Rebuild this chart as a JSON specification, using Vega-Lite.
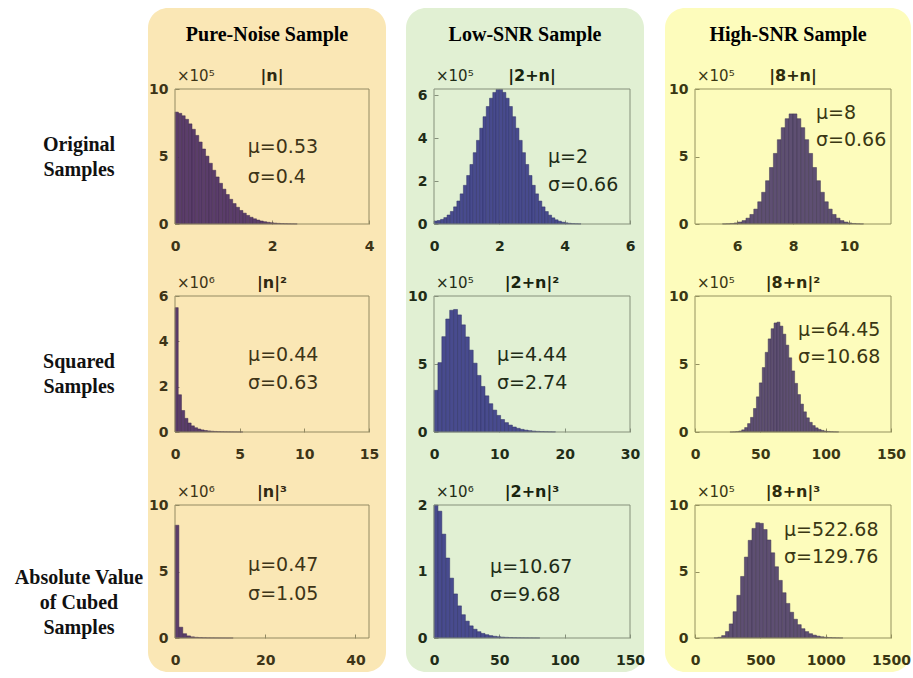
{
"$schema": "https://vega.github.io/schema/vega-lite/v6.json",
"background": "#ffffff",
"padding": {"left": 0, "top": 8, "right": 3, "bottom": 6},
"spacing": 0,
"config": {
  "view": {"stroke": null},
  "font": "DejaVu Sans",
  "axis": {"grid": false, "domain": false, "labelFont": "DejaVu Sans", "labelFontWeight": "bold", "labelFontSize": 14, "tickSize": -4, "tickWidth": 1, "labelFlush": false, "labelOverlap": false, "labelBound": false, "format": "d"},
  "axisX": {"labelPadding": 19},
  "axisY": {"labelPadding": 11},
  "text": {"font": "DejaVu Sans"}
},
"datasets": {
  "A1": [{"lo":0,"hi":0.07,"count":829000},{"lo":0.07,"hi":0.14,"count":819700},{"lo":0.14,"hi":0.21,"count":801700},{"lo":0.21,"hi":0.28,"count":775400},{"lo":0.28,"hi":0.35,"count":741700},{"lo":0.35,"hi":0.42,"count":701600},{"lo":0.42,"hi":0.49,"count":656300},{"lo":0.49,"hi":0.56,"count":607200},{"lo":0.56,"hi":0.63,"count":555500},{"lo":0.63,"hi":0.7,"count":502600},{"lo":0.7,"hi":0.77,"count":449800},{"lo":0.77,"hi":0.84,"count":398100},{"lo":0.84,"hi":0.91,"count":348400},{"lo":0.91,"hi":0.98,"count":301500},{"lo":0.98,"hi":1.05,"count":258000},{"lo":1.05,"hi":1.12,"count":218400},{"lo":1.12,"hi":1.19,"count":182900},{"lo":1.19,"hi":1.26,"count":151300},{"lo":1.26,"hi":1.33,"count":123900},{"lo":1.33,"hi":1.4,"count":100300},{"lo":1.4,"hi":1.47,"count":80400},{"lo":1.47,"hi":1.54,"count":63600},{"lo":1.54,"hi":1.61,"count":49800},{"lo":1.61,"hi":1.68,"count":38600},{"lo":1.68,"hi":1.75,"count":29500},{"lo":1.75,"hi":1.82,"count":22400},{"lo":1.82,"hi":1.89,"count":16800},{"lo":1.89,"hi":1.96,"count":12400},{"lo":1.96,"hi":2.03,"count":9100},{"lo":2.03,"hi":2.1,"count":6600},{"lo":2.1,"hi":2.17,"count":4700},{"lo":2.17,"hi":2.24,"count":3300},{"lo":2.24,"hi":2.31,"count":2300},{"lo":2.31,"hi":2.38,"count":1600},{"lo":2.38,"hi":2.45,"count":1100},{"lo":2.45,"hi":2.52,"count":760}],
  "A2": [{"lo":0,"hi":0.1,"count":13800},{"lo":0.1,"hi":0.2,"count":16300},{"lo":0.2,"hi":0.3,"count":21500},{"lo":0.3,"hi":0.4,"count":29900},{"lo":0.4,"hi":0.5,"count":42000},{"lo":0.5,"hi":0.6,"count":58500},{"lo":0.6,"hi":0.7,"count":80000},{"lo":0.7,"hi":0.8,"count":107200},{"lo":0.8,"hi":0.9,"count":140600},{"lo":0.9,"hi":1.0,"count":180400},{"lo":1.0,"hi":1.1,"count":226400},{"lo":1.1,"hi":1.2,"count":277700},{"lo":1.2,"hi":1.3,"count":332900},{"lo":1.3,"hi":1.4,"count":390200},{"lo":1.4,"hi":1.5,"count":447100},{"lo":1.5,"hi":1.6,"count":500700},{"lo":1.6,"hi":1.7,"count":548300},{"lo":1.7,"hi":1.8,"count":586900},{"lo":1.8,"hi":1.9,"count":614100},{"lo":1.9,"hi":2.0,"count":628200},{"lo":2.0,"hi":2.1,"count":628200},{"lo":2.1,"hi":2.2,"count":614100},{"lo":2.2,"hi":2.3,"count":586900},{"lo":2.3,"hi":2.4,"count":548300},{"lo":2.4,"hi":2.5,"count":500700},{"lo":2.5,"hi":2.6,"count":447100},{"lo":2.6,"hi":2.7,"count":390200},{"lo":2.7,"hi":2.8,"count":332900},{"lo":2.8,"hi":2.9,"count":277700},{"lo":2.9,"hi":3.0,"count":226400},{"lo":3.0,"hi":3.1,"count":180400},{"lo":3.1,"hi":3.2,"count":140600},{"lo":3.2,"hi":3.3,"count":107100},{"lo":3.3,"hi":3.4,"count":79800},{"lo":3.4,"hi":3.5,"count":58100},{"lo":3.5,"hi":3.6,"count":41300},{"lo":3.6,"hi":3.7,"count":28700},{"lo":3.7,"hi":3.8,"count":19500},{"lo":3.8,"hi":3.9,"count":13000},{"lo":3.9,"hi":4.0,"count":8400},{"lo":4.0,"hi":4.1,"count":5400},{"lo":4.1,"hi":4.2,"count":3300},{"lo":4.2,"hi":4.3,"count":2000},{"lo":4.3,"hi":4.4,"count":1200},{"lo":4.4,"hi":4.5,"count":700}],
  "A3": [{"lo":5.48,"hi":5.62,"count":900},{"lo":5.62,"hi":5.76,"count":1900},{"lo":5.76,"hi":5.9,"count":3900},{"lo":5.9,"hi":6.04,"count":7700},{"lo":6.04,"hi":6.18,"count":14300},{"lo":6.18,"hi":6.32,"count":25400},{"lo":6.32,"hi":6.46,"count":43400},{"lo":6.46,"hi":6.6,"count":70700},{"lo":6.6,"hi":6.74,"count":110300},{"lo":6.74,"hi":6.88,"count":164600},{"lo":6.88,"hi":7.02,"count":234900},{"lo":7.02,"hi":7.16,"count":320600},{"lo":7.16,"hi":7.3,"count":418600},{"lo":7.3,"hi":7.44,"count":522800},{"lo":7.44,"hi":7.58,"count":624500},{"lo":7.58,"hi":7.72,"count":713600},{"lo":7.72,"hi":7.86,"count":780000},{"lo":7.86,"hi":8.0,"count":815500},{"lo":8.0,"hi":8.14,"count":815500},{"lo":8.14,"hi":8.28,"count":780000},{"lo":8.28,"hi":8.42,"count":713600},{"lo":8.42,"hi":8.56,"count":624500},{"lo":8.56,"hi":8.7,"count":522800},{"lo":8.7,"hi":8.84,"count":418600},{"lo":8.84,"hi":8.98,"count":320600},{"lo":8.98,"hi":9.12,"count":234900},{"lo":9.12,"hi":9.26,"count":164600},{"lo":9.26,"hi":9.4,"count":110300},{"lo":9.4,"hi":9.54,"count":70700},{"lo":9.54,"hi":9.68,"count":43400},{"lo":9.68,"hi":9.82,"count":25400},{"lo":9.82,"hi":9.96,"count":14300},{"lo":9.96,"hi":10.1,"count":7700},{"lo":10.1,"hi":10.24,"count":3900},{"lo":10.24,"hi":10.38,"count":1900},{"lo":10.38,"hi":10.52,"count":900}],
  "B1": [{"lo":0,"hi":0.25,"count":5486000},{"lo":0.25,"hi":0.5,"count":1644000},{"lo":0.5,"hi":0.75,"count":948000},{"lo":0.75,"hi":1.0,"count":602000},{"lo":1.0,"hi":1.25,"count":398000},{"lo":1.25,"hi":1.5,"count":270800},{"lo":1.5,"hi":1.75,"count":187800},{"lo":1.75,"hi":2.0,"count":131600},{"lo":2.0,"hi":2.25,"count":93000},{"lo":2.25,"hi":2.5,"count":66200},{"lo":2.5,"hi":2.75,"count":47600},{"lo":2.75,"hi":3.0,"count":34000},{"lo":3.0,"hi":3.25,"count":24800},{"lo":3.25,"hi":3.5,"count":17800},{"lo":3.5,"hi":3.75,"count":13000},{"lo":3.75,"hi":4.0,"count":9400},{"lo":4.0,"hi":4.25,"count":7000},{"lo":4.25,"hi":4.5,"count":5000},{"lo":4.5,"hi":4.75,"count":3700},{"lo":4.75,"hi":5.0,"count":2700},{"lo":5.0,"hi":5.25,"count":2000}],
  "B2": [{"lo":0,"hi":0.6,"count":307000},{"lo":0.6,"hi":1.2,"count":510000},{"lo":1.2,"hi":1.8,"count":701000},{"lo":1.8,"hi":2.4,"count":831000},{"lo":2.4,"hi":3.0,"count":895000},{"lo":3.0,"hi":3.6,"count":901000},{"lo":3.6,"hi":4.2,"count":861000},{"lo":4.2,"hi":4.8,"count":788000},{"lo":4.8,"hi":5.4,"count":699000},{"lo":5.4,"hi":6.0,"count":602000},{"lo":6.0,"hi":6.6,"count":506000},{"lo":6.6,"hi":7.2,"count":416000},{"lo":7.2,"hi":7.8,"count":335000},{"lo":7.8,"hi":8.4,"count":266000},{"lo":8.4,"hi":9.0,"count":208000},{"lo":9.0,"hi":9.6,"count":161000},{"lo":9.6,"hi":10.2,"count":122000},{"lo":10.2,"hi":10.8,"count":92000},{"lo":10.8,"hi":11.4,"count":69000},{"lo":11.4,"hi":12.0,"count":51000},{"lo":12.0,"hi":12.6,"count":36800},{"lo":12.6,"hi":13.2,"count":27000},{"lo":13.2,"hi":13.8,"count":19400},{"lo":13.8,"hi":14.4,"count":13800},{"lo":14.4,"hi":15.0,"count":9800},{"lo":15.0,"hi":15.6,"count":7000},{"lo":15.6,"hi":16.2,"count":4800},{"lo":16.2,"hi":16.8,"count":3400},{"lo":16.8,"hi":17.4,"count":2400},{"lo":17.4,"hi":18.0,"count":1600},{"lo":18.0,"hi":18.6,"count":1100}],
  "B3": [{"lo":26.75,"hi":29,"count":277},{"lo":29,"hi":31.25,"count":921},{"lo":31.25,"hi":33.5,"count":2670},{"lo":33.5,"hi":35.75,"count":6850},{"lo":35.75,"hi":38,"count":15700},{"lo":38,"hi":40.25,"count":32600},{"lo":40.25,"hi":42.5,"count":61800},{"lo":42.5,"hi":44.75,"count":107500},{"lo":44.75,"hi":47,"count":172900},{"lo":47,"hi":49.25,"count":258500},{"lo":49.25,"hi":51.5,"count":361200},{"lo":51.5,"hi":53.75,"count":473700},{"lo":53.75,"hi":56,"count":585600},{"lo":56,"hi":58.25,"count":684500},{"lo":58.25,"hi":60.5,"count":759400},{"lo":60.5,"hi":62.75,"count":801800},{"lo":62.75,"hi":65,"count":807800},{"lo":65,"hi":67.25,"count":778500},{"lo":67.25,"hi":69.5,"count":719300},{"lo":69.5,"hi":71.75,"count":638600},{"lo":71.75,"hi":74,"count":545600},{"lo":74,"hi":76.25,"count":449400},{"lo":76.25,"hi":78.5,"count":357600},{"lo":78.5,"hi":80.75,"count":275100},{"lo":80.75,"hi":83,"count":205100},{"lo":83,"hi":85.25,"count":148200},{"lo":85.25,"hi":87.5,"count":104100},{"lo":87.5,"hi":89.75,"count":71000},{"lo":89.75,"hi":92,"count":47100},{"lo":92,"hi":94.25,"count":30500},{"lo":94.25,"hi":96.5,"count":19200},{"lo":96.5,"hi":98.75,"count":11800},{"lo":98.75,"hi":101,"count":7100},{"lo":101,"hi":103.25,"count":4200},{"lo":103.25,"hi":105.5,"count":2400},{"lo":105.5,"hi":107.75,"count":1350},{"lo":107.75,"hi":110,"count":750}],
  "C1": [{"lo":0,"hi":0.86,"count":8478000},{"lo":0.86,"hi":1.72,"count":811200},{"lo":1.72,"hi":2.58,"count":322400},{"lo":2.58,"hi":3.44,"count":158400},{"lo":3.44,"hi":4.3,"count":86800},{"lo":4.3,"hi":5.16,"count":50600},{"lo":5.16,"hi":6.02,"count":31200},{"lo":6.02,"hi":6.88,"count":19600},{"lo":6.88,"hi":7.74,"count":12800},{"lo":7.74,"hi":8.6,"count":8600},{"lo":8.6,"hi":9.46,"count":6000},{"lo":9.46,"hi":10.32,"count":4000},{"lo":10.32,"hi":11.18,"count":2800},{"lo":11.18,"hi":12.04,"count":2000},{"lo":12.04,"hi":12.9,"count":1400}],
  "C2": [{"lo":0,"hi":3,"count":2004000},{"lo":3,"hi":6,"count":1911000},{"lo":6,"hi":9,"count":1565000},{"lo":9,"hi":12,"count":1205000},{"lo":12,"hi":15,"count":902000},{"lo":15,"hi":18,"count":664000},{"lo":18,"hi":21,"count":484000},{"lo":21,"hi":24,"count":351000},{"lo":24,"hi":27,"count":254000},{"lo":27,"hi":30,"count":183000},{"lo":30,"hi":33,"count":132000},{"lo":33,"hi":36,"count":95000},{"lo":36,"hi":39,"count":69000},{"lo":39,"hi":42,"count":49900},{"lo":42,"hi":45,"count":35900},{"lo":45,"hi":48,"count":25900},{"lo":48,"hi":51,"count":18900},{"lo":51,"hi":54,"count":13600},{"lo":54,"hi":57,"count":9900},{"lo":57,"hi":60,"count":7300},{"lo":60,"hi":63,"count":5200},{"lo":63,"hi":66,"count":3800},{"lo":66,"hi":69,"count":2800},{"lo":69,"hi":72,"count":2100},{"lo":72,"hi":75,"count":1500},{"lo":75,"hi":78,"count":1100},{"lo":78,"hi":81,"count":800}],
  "C3": [{"lo":146,"hi":175,"count":1100},{"lo":175,"hi":204,"count":5200},{"lo":204,"hi":233,"count":18000},{"lo":233,"hi":262,"count":48300},{"lo":262,"hi":291,"count":105900},{"lo":291,"hi":320,"count":197700},{"lo":320,"hi":349,"count":320800},{"lo":349,"hi":378,"count":462800},{"lo":378,"hi":407,"count":608300},{"lo":407,"hi":436,"count":734200},{"lo":436,"hi":465,"count":824000},{"lo":465,"hi":494,"count":867000},{"lo":494,"hi":523,"count":862100},{"lo":523,"hi":552,"count":815500},{"lo":552,"hi":581,"count":737000},{"lo":581,"hi":610,"count":640300},{"lo":610,"hi":639,"count":535700},{"lo":639,"hi":668,"count":433200},{"lo":668,"hi":697,"count":340300},{"lo":697,"hi":726,"count":260000},{"lo":726,"hi":755,"count":193600},{"lo":755,"hi":784,"count":141000},{"lo":784,"hi":813,"count":100300},{"lo":813,"hi":842,"count":69900},{"lo":842,"hi":871,"count":48000},{"lo":871,"hi":900,"count":32300},{"lo":900,"hi":929,"count":21500},{"lo":929,"hi":958,"count":14100},{"lo":958,"hi":987,"count":9100},{"lo":987,"hi":1016,"count":5700},{"lo":1016,"hi":1045,"count":3600},{"lo":1045,"hi":1074,"count":2200},{"lo":1074,"hi":1103,"count":1400},{"lo":1103,"hi":1132,"count":800}]
},
"hconcat": [
  {
    "width": 148, "height": 664,
    "data": {"values": [{"row": "Original", "label": "Original\nSamples"}, {"row": "Squared", "label": "Squared\nSamples"}, {"row": "Cubed", "label": "Absolute Value\nof Cubed\nSamples"}]},
    "mark": {"type": "text", "font": "Liberation Serif", "fontSize": 20, "fontWeight": "bold", "lineBreak": "\n", "lineHeight": 25, "color": "#111111", "dx": 5},
    "encoding": {
      "y": {"field": "row", "type": "nominal", "sort": null, "scale": {"type": "point", "range": [137, 570], "padding": 0}, "axis": null},
      "text": {"field": "label"}
    }
  },
  {
    "spacing": 20,
    "hconcat": [
      {
        "width": 238, "height": 664,
        "view": {"fill": "#fae7b5", "stroke": null, "cornerRadius": 20},
        "title": {"text": "Pure-Noise Sample", "font": "Liberation Serif", "fontSize": 20, "fontWeight": "bold", "color": "#000000", "anchor": "middle", "frame": "group", "baseline": "alphabetic", "offset": -53},
        "resolve": {"scale": {"x": "independent", "y": "independent"}, "axis": {"x": "independent", "y": "independent"}},
        "layer": [
          {"layer": [
            {"data": {"name": "A1"}, "mark": {"type": "bar", "fill": "#5b3d6b", "stroke": "#3f2a4c", "strokeWidth": 0.5},
             "encoding": {
               "x": {"field": "lo", "type": "quantitative", "scale": {"domain": [0, 4], "range": [27, 221], "nice": false, "zero": false}, "axis": {"orient": "bottom", "offset": -448, "values": [0, 2, 4], "title": null, "labelColor": "#3d3417", "tickColor": "#938a62"}},
               "x2": {"field": "hi"},
               "y": {"field": "count", "type": "quantitative", "scale": {"domain": [0, 1000000], "range": [216, 81], "nice": false}, "axis": {"orient": "left", "offset": -27, "values": [0, 500000, 1000000], "labelExpr": "format(datum.value/100000,'d')", "title": null, "labelColor": "#3d3417", "tickColor": "#938a62"}},
               "y2": {"datum": 0}
             }},
            {"data": {"values": [{}]}, "mark": {"type": "rect", "filled": false, "stroke": "#938a62", "strokeWidth": 1}, "encoding": {"x": {"datum": 0}, "x2": {"datum": 4}, "y": {"datum": 0}, "y2": {"datum": 1000000}}},
            {"data": {"values": [{}]}, "mark": {"type": "text", "text": "|n|", "fontWeight": "bold", "fontSize": 16, "color": "#2f2812", "dy": -13}, "encoding": {"x": {"datum": 2}, "y": {"datum": 1000000}}},
            {"data": {"values": [{}]}, "mark": {"type": "text", "text": "×10⁵", "fontSize": 15, "align": "left", "dx": 2, "dy": -13, "color": "#3d3417"}, "encoding": {"x": {"datum": 0}, "y": {"datum": 1000000}}},
            {"data": {"values": [{}]}, "mark": {"type": "text", "text": "μ=0.53", "fontSize": 19, "align": "left", "color": "#3d3417"}, "encoding": {"x": {"datum": 1.5}, "y": {"datum": 570000}}},
            {"data": {"values": [{}]}, "mark": {"type": "text", "text": "σ=0.4", "fontSize": 19, "align": "left", "color": "#3d3417"}, "encoding": {"x": {"datum": 1.5}, "y": {"datum": 348000}}}
          ]},
          {"layer": [
            {"data": {"name": "B1"}, "mark": {"type": "bar", "fill": "#5b3d6b", "stroke": "#3f2a4c", "strokeWidth": 0.5},
             "encoding": {
               "x": {"field": "lo", "type": "quantitative", "scale": {"domain": [0, 15], "range": [27, 221], "nice": false, "zero": false}, "axis": {"orient": "bottom", "offset": -240, "values": [0, 5, 10, 15], "title": null, "labelColor": "#3d3417", "tickColor": "#938a62"}},
               "x2": {"field": "hi"},
               "y": {"field": "count", "type": "quantitative", "scale": {"domain": [0, 6000000], "range": [424, 288], "nice": false}, "axis": {"orient": "left", "offset": -27, "values": [0, 2000000, 4000000, 6000000], "labelExpr": "format(datum.value/1000000,'d')", "title": null, "labelColor": "#3d3417", "tickColor": "#938a62"}},
               "y2": {"datum": 0}
             }},
            {"data": {"values": [{}]}, "mark": {"type": "rect", "filled": false, "stroke": "#938a62", "strokeWidth": 1}, "encoding": {"x": {"datum": 0}, "x2": {"datum": 15}, "y": {"datum": 0}, "y2": {"datum": 6000000}}},
            {"data": {"values": [{}]}, "mark": {"type": "text", "text": "|n|²", "fontWeight": "bold", "fontSize": 16, "color": "#2f2812", "dy": -13}, "encoding": {"x": {"datum": 7.5}, "y": {"datum": 6000000}}},
            {"data": {"values": [{}]}, "mark": {"type": "text", "text": "×10⁶", "fontSize": 15, "align": "left", "dx": 2, "dy": -13, "color": "#3d3417"}, "encoding": {"x": {"datum": 0}, "y": {"datum": 6000000}}},
            {"data": {"values": [{}]}, "mark": {"type": "text", "text": "μ=0.44", "fontSize": 19, "align": "left", "color": "#3d3417"}, "encoding": {"x": {"datum": 5.65}, "y": {"datum": 3400000}}},
            {"data": {"values": [{}]}, "mark": {"type": "text", "text": "σ=0.63", "fontSize": 19, "align": "left", "color": "#3d3417"}, "encoding": {"x": {"datum": 5.65}, "y": {"datum": 2160000}}}
          ]},
          {"layer": [
            {"data": {"name": "C1"}, "mark": {"type": "bar", "fill": "#5b3d6b", "stroke": "#3f2a4c", "strokeWidth": 0.5},
             "encoding": {
               "x": {"field": "lo", "type": "quantitative", "scale": {"domain": [0, 43], "range": [27, 221], "nice": false, "zero": false}, "axis": {"orient": "bottom", "offset": -34, "values": [0, 20, 40], "title": null, "labelColor": "#3d3417", "tickColor": "#938a62"}},
               "x2": {"field": "hi"},
               "y": {"field": "count", "type": "quantitative", "scale": {"domain": [0, 10000000], "range": [630, 497], "nice": false}, "axis": {"orient": "left", "offset": -27, "values": [0, 5000000, 10000000], "labelExpr": "format(datum.value/1000000,'d')", "title": null, "labelColor": "#3d3417", "tickColor": "#938a62"}},
               "y2": {"datum": 0}
             }},
            {"data": {"values": [{}]}, "mark": {"type": "rect", "filled": false, "stroke": "#938a62", "strokeWidth": 1}, "encoding": {"x": {"datum": 0}, "x2": {"datum": 43}, "y": {"datum": 0}, "y2": {"datum": 10000000}}},
            {"data": {"values": [{}]}, "mark": {"type": "text", "text": "|n|³", "fontWeight": "bold", "fontSize": 16, "color": "#2f2812", "dy": -13}, "encoding": {"x": {"datum": 21.5}, "y": {"datum": 10000000}}},
            {"data": {"values": [{}]}, "mark": {"type": "text", "text": "×10⁶", "fontSize": 15, "align": "left", "dx": 2, "dy": -13, "color": "#3d3417"}, "encoding": {"x": {"datum": 0}, "y": {"datum": 10000000}}},
            {"data": {"values": [{}]}, "mark": {"type": "text", "text": "μ=0.47", "fontSize": 19, "align": "left", "color": "#3d3417"}, "encoding": {"x": {"datum": 16.2}, "y": {"datum": 5490000}}},
            {"data": {"values": [{}]}, "mark": {"type": "text", "text": "σ=1.05", "fontSize": 19, "align": "left", "color": "#3d3417"}, "encoding": {"x": {"datum": 16.2}, "y": {"datum": 3310000}}}
          ]}
        ]
      },
      {
        "width": 238, "height": 664,
        "view": {"fill": "#e1f0d3", "stroke": null, "cornerRadius": 20},
        "title": {"text": "Low-SNR Sample", "font": "Liberation Serif", "fontSize": 20, "fontWeight": "bold", "color": "#000000", "anchor": "middle", "frame": "group", "baseline": "alphabetic", "offset": -53},
        "resolve": {"scale": {"x": "independent", "y": "independent"}, "axis": {"x": "independent", "y": "independent"}},
        "layer": [
          {"layer": [
            {"data": {"name": "A2"}, "mark": {"type": "bar", "fill": "#484b8e", "stroke": "#2f3166", "strokeWidth": 0.5},
             "encoding": {
               "x": {"field": "lo", "type": "quantitative", "scale": {"domain": [0, 6], "range": [28, 224], "nice": false, "zero": false}, "axis": {"orient": "bottom", "offset": -448, "values": [0, 2, 4, 6], "title": null, "labelColor": "#1f2c17", "tickColor": "#85907a"}},
               "x2": {"field": "hi"},
               "y": {"field": "count", "type": "quantitative", "scale": {"domain": [0, 630000], "range": [216, 81], "nice": false}, "axis": {"orient": "left", "offset": -28, "values": [0, 200000, 400000, 600000], "labelExpr": "format(datum.value/100000,'d')", "title": null, "labelColor": "#1f2c17", "tickColor": "#85907a"}},
               "y2": {"datum": 0}
             }},
            {"data": {"values": [{}]}, "mark": {"type": "rect", "filled": false, "stroke": "#85907a", "strokeWidth": 1}, "encoding": {"x": {"datum": 0}, "x2": {"datum": 6}, "y": {"datum": 0}, "y2": {"datum": 630000}}},
            {"data": {"values": [{}]}, "mark": {"type": "text", "text": "|2+n|", "fontWeight": "bold", "fontSize": 16, "color": "#18240f", "dy": -13}, "encoding": {"x": {"datum": 3}, "y": {"datum": 630000}}},
            {"data": {"values": [{}]}, "mark": {"type": "text", "text": "×10⁵", "fontSize": 15, "align": "left", "dx": 2, "dy": -13, "color": "#1f2c17"}, "encoding": {"x": {"datum": 0}, "y": {"datum": 630000}}},
            {"data": {"values": [{}]}, "mark": {"type": "text", "text": "μ=2", "fontSize": 19, "align": "left", "color": "#1f2c17"}, "encoding": {"x": {"datum": 3.49}, "y": {"datum": 313000}}},
            {"data": {"values": [{}]}, "mark": {"type": "text", "text": "σ=0.66", "fontSize": 19, "align": "left", "color": "#1f2c17"}, "encoding": {"x": {"datum": 3.49}, "y": {"datum": 182000}}}
          ]},
          {"layer": [
            {"data": {"name": "B2"}, "mark": {"type": "bar", "fill": "#484b8e", "stroke": "#2f3166", "strokeWidth": 0.5},
             "encoding": {
               "x": {"field": "lo", "type": "quantitative", "scale": {"domain": [0, 30], "range": [28, 224], "nice": false, "zero": false}, "axis": {"orient": "bottom", "offset": -240, "values": [0, 10, 20, 30], "title": null, "labelColor": "#1f2c17", "tickColor": "#85907a"}},
               "x2": {"field": "hi"},
               "y": {"field": "count", "type": "quantitative", "scale": {"domain": [0, 1000000], "range": [424, 288], "nice": false}, "axis": {"orient": "left", "offset": -28, "values": [0, 500000, 1000000], "labelExpr": "format(datum.value/100000,'d')", "title": null, "labelColor": "#1f2c17", "tickColor": "#85907a"}},
               "y2": {"datum": 0}
             }},
            {"data": {"values": [{}]}, "mark": {"type": "rect", "filled": false, "stroke": "#85907a", "strokeWidth": 1}, "encoding": {"x": {"datum": 0}, "x2": {"datum": 30}, "y": {"datum": 0}, "y2": {"datum": 1000000}}},
            {"data": {"values": [{}]}, "mark": {"type": "text", "text": "|2+n|²", "fontWeight": "bold", "fontSize": 16, "color": "#18240f", "dy": -13}, "encoding": {"x": {"datum": 15}, "y": {"datum": 1000000}}},
            {"data": {"values": [{}]}, "mark": {"type": "text", "text": "×10⁵", "fontSize": 15, "align": "left", "dx": 2, "dy": -13, "color": "#1f2c17"}, "encoding": {"x": {"datum": 0}, "y": {"datum": 1000000}}},
            {"data": {"values": [{}]}, "mark": {"type": "text", "text": "μ=4.44", "fontSize": 19, "align": "left", "color": "#1f2c17"}, "encoding": {"x": {"datum": 9.64}, "y": {"datum": 566000}}},
            {"data": {"values": [{}]}, "mark": {"type": "text", "text": "σ=2.74", "fontSize": 19, "align": "left", "color": "#1f2c17"}, "encoding": {"x": {"datum": 9.64}, "y": {"datum": 360000}}}
          ]},
          {"layer": [
            {"data": {"name": "C2"}, "mark": {"type": "bar", "fill": "#484b8e", "stroke": "#2f3166", "strokeWidth": 0.5},
             "encoding": {
               "x": {"field": "lo", "type": "quantitative", "scale": {"domain": [0, 150], "range": [28, 224], "nice": false, "zero": false}, "axis": {"orient": "bottom", "offset": -34, "values": [0, 50, 100, 150], "title": null, "labelColor": "#1f2c17", "tickColor": "#85907a"}},
               "x2": {"field": "hi"},
               "y": {"field": "count", "type": "quantitative", "scale": {"domain": [0, 2004000], "range": [630, 497], "nice": false}, "axis": {"orient": "left", "offset": -28, "values": [0, 1000000, 2000000], "labelExpr": "format(datum.value/1000000,'d')", "title": null, "labelColor": "#1f2c17", "tickColor": "#85907a"}},
               "y2": {"datum": 0}
             }},
            {"data": {"values": [{}]}, "mark": {"type": "rect", "filled": false, "stroke": "#85907a", "strokeWidth": 1}, "encoding": {"x": {"datum": 0}, "x2": {"datum": 150}, "y": {"datum": 0}, "y2": {"datum": 2004000}}},
            {"data": {"values": [{}]}, "mark": {"type": "text", "text": "|2+n|³", "fontWeight": "bold", "fontSize": 16, "color": "#18240f", "dy": -13}, "encoding": {"x": {"datum": 75}, "y": {"datum": 2004000}}},
            {"data": {"values": [{}]}, "mark": {"type": "text", "text": "×10⁶", "fontSize": 15, "align": "left", "dx": 2, "dy": -13, "color": "#1f2c17"}, "encoding": {"x": {"datum": 0}, "y": {"datum": 2004000}}},
            {"data": {"values": [{}]}, "mark": {"type": "text", "text": "μ=10.67", "fontSize": 19, "align": "left", "color": "#1f2c17"}, "encoding": {"x": {"datum": 42.9}, "y": {"datum": 1068000}}},
            {"data": {"values": [{}]}, "mark": {"type": "text", "text": "σ=9.68", "fontSize": 19, "align": "left", "color": "#1f2c17"}, "encoding": {"x": {"datum": 42.9}, "y": {"datum": 647000}}}
          ]}
        ]
      },
      {
        "width": 246, "height": 664,
        "view": {"fill": "#fdfcbc", "stroke": null, "cornerRadius": 20},
        "title": {"text": "High-SNR Sample", "font": "Liberation Serif", "fontSize": 20, "fontWeight": "bold", "color": "#000000", "anchor": "middle", "frame": "group", "baseline": "alphabetic", "offset": -53},
        "resolve": {"scale": {"x": "independent", "y": "independent"}, "axis": {"x": "independent", "y": "independent"}},
        "layer": [
          {"layer": [
            {"data": {"name": "A3"}, "mark": {"type": "bar", "fill": "#5e4f72", "stroke": "#3f3452", "strokeWidth": 0.5},
             "encoding": {
               "x": {"field": "lo", "type": "quantitative", "scale": {"domain": [4.5, 11.5], "range": [30, 226], "nice": false, "zero": false}, "axis": {"orient": "bottom", "offset": -448, "values": [6, 8, 10], "title": null, "labelColor": "#3a3713", "tickColor": "#94925f"}},
               "x2": {"field": "hi"},
               "y": {"field": "count", "type": "quantitative", "scale": {"domain": [0, 1000000], "range": [216, 81], "nice": false}, "axis": {"orient": "left", "offset": -30, "values": [0, 500000, 1000000], "labelExpr": "format(datum.value/100000,'d')", "title": null, "labelColor": "#3a3713", "tickColor": "#94925f"}},
               "y2": {"datum": 0}
             }},
            {"data": {"values": [{}]}, "mark": {"type": "rect", "filled": false, "stroke": "#94925f", "strokeWidth": 1}, "encoding": {"x": {"datum": 4.5}, "x2": {"datum": 11.5}, "y": {"datum": 0}, "y2": {"datum": 1000000}}},
            {"data": {"values": [{}]}, "mark": {"type": "text", "text": "|8+n|", "fontWeight": "bold", "fontSize": 16, "color": "#2e2c0e", "dy": -13}, "encoding": {"x": {"datum": 8}, "y": {"datum": 1000000}}},
            {"data": {"values": [{}]}, "mark": {"type": "text", "text": "×10⁵", "fontSize": 15, "align": "left", "dx": 2, "dy": -13, "color": "#3a3713"}, "encoding": {"x": {"datum": 4.5}, "y": {"datum": 1000000}}},
            {"data": {"values": [{}]}, "mark": {"type": "text", "text": "μ=8", "fontSize": 19, "align": "left", "color": "#3a3713"}, "encoding": {"x": {"datum": 8.82}, "y": {"datum": 822000}}},
            {"data": {"values": [{}]}, "mark": {"type": "text", "text": "σ=0.66", "fontSize": 19, "align": "left", "color": "#3a3713"}, "encoding": {"x": {"datum": 8.82}, "y": {"datum": 622000}}}
          ]},
          {"layer": [
            {"data": {"name": "B3"}, "mark": {"type": "bar", "fill": "#5e4f72", "stroke": "#3f3452", "strokeWidth": 0.5},
             "encoding": {
               "x": {"field": "lo", "type": "quantitative", "scale": {"domain": [0, 150], "range": [30, 226], "nice": false, "zero": false}, "axis": {"orient": "bottom", "offset": -240, "values": [0, 50, 100, 150], "title": null, "labelColor": "#3a3713", "tickColor": "#94925f"}},
               "x2": {"field": "hi"},
               "y": {"field": "count", "type": "quantitative", "scale": {"domain": [0, 1000000], "range": [424, 288], "nice": false}, "axis": {"orient": "left", "offset": -30, "values": [0, 500000, 1000000], "labelExpr": "format(datum.value/100000,'d')", "title": null, "labelColor": "#3a3713", "tickColor": "#94925f"}},
               "y2": {"datum": 0}
             }},
            {"data": {"values": [{}]}, "mark": {"type": "rect", "filled": false, "stroke": "#94925f", "strokeWidth": 1}, "encoding": {"x": {"datum": 0}, "x2": {"datum": 150}, "y": {"datum": 0}, "y2": {"datum": 1000000}}},
            {"data": {"values": [{}]}, "mark": {"type": "text", "text": "|8+n|²", "fontWeight": "bold", "fontSize": 16, "color": "#2e2c0e", "dy": -13}, "encoding": {"x": {"datum": 75}, "y": {"datum": 1000000}}},
            {"data": {"values": [{}]}, "mark": {"type": "text", "text": "×10⁵", "fontSize": 15, "align": "left", "dx": 2, "dy": -13, "color": "#3a3713"}, "encoding": {"x": {"datum": 0}, "y": {"datum": 1000000}}},
            {"data": {"values": [{}]}, "mark": {"type": "text", "text": "μ=64.45", "fontSize": 19, "align": "left", "color": "#3a3713"}, "encoding": {"x": {"datum": 78.8}, "y": {"datum": 750000}}},
            {"data": {"values": [{}]}, "mark": {"type": "text", "text": "σ=10.68", "fontSize": 19, "align": "left", "color": "#3a3713"}, "encoding": {"x": {"datum": 78.8}, "y": {"datum": 551000}}}
          ]},
          {"layer": [
            {"data": {"name": "C3"}, "mark": {"type": "bar", "fill": "#5e4f72", "stroke": "#3f3452", "strokeWidth": 0.5},
             "encoding": {
               "x": {"field": "lo", "type": "quantitative", "scale": {"domain": [0, 1500], "range": [30, 226], "nice": false, "zero": false}, "axis": {"orient": "bottom", "offset": -34, "values": [0, 500, 1000, 1500], "title": null, "labelColor": "#3a3713", "tickColor": "#94925f"}},
               "x2": {"field": "hi"},
               "y": {"field": "count", "type": "quantitative", "scale": {"domain": [0, 1000000], "range": [630, 497], "nice": false}, "axis": {"orient": "left", "offset": -30, "values": [0, 500000, 1000000], "labelExpr": "format(datum.value/100000,'d')", "title": null, "labelColor": "#3a3713", "tickColor": "#94925f"}},
               "y2": {"datum": 0}
             }},
            {"data": {"values": [{}]}, "mark": {"type": "rect", "filled": false, "stroke": "#94925f", "strokeWidth": 1}, "encoding": {"x": {"datum": 0}, "x2": {"datum": 1500}, "y": {"datum": 0}, "y2": {"datum": 1000000}}},
            {"data": {"values": [{}]}, "mark": {"type": "text", "text": "|8+n|³", "fontWeight": "bold", "fontSize": 16, "color": "#2e2c0e", "dy": -13}, "encoding": {"x": {"datum": 750}, "y": {"datum": 1000000}}},
            {"data": {"values": [{}]}, "mark": {"type": "text", "text": "×10⁵", "fontSize": 15, "align": "left", "dx": 2, "dy": -13, "color": "#3a3713"}, "encoding": {"x": {"datum": 0}, "y": {"datum": 1000000}}},
            {"data": {"values": [{}]}, "mark": {"type": "text", "text": "μ=522.68", "fontSize": 19, "align": "left", "color": "#3a3713"}, "encoding": {"x": {"datum": 681}, "y": {"datum": 812000}}},
            {"data": {"values": [{}]}, "mark": {"type": "text", "text": "σ=129.76", "fontSize": 19, "align": "left", "color": "#3a3713"}, "encoding": {"x": {"datum": 681}, "y": {"datum": 609000}}}
          ]}
        ]
      }
    ]
  }
]
}
